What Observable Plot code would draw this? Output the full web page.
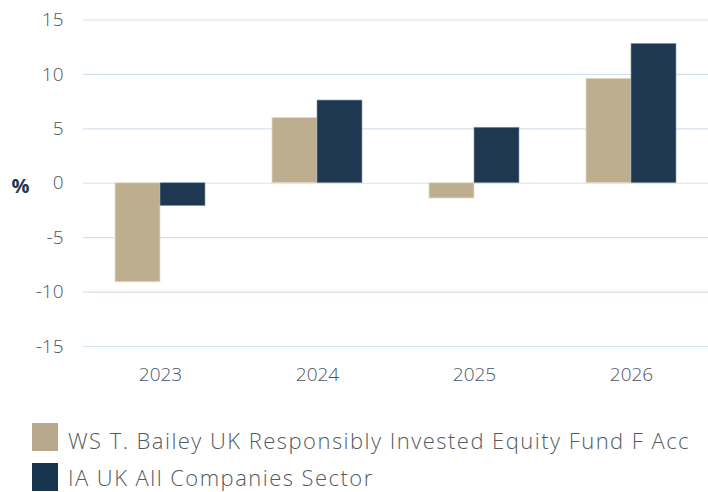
<!DOCTYPE html>
<html>
<head>
<meta charset="utf-8">
<script src="https://cdn.jsdelivr.net/npm/d3@7"></script>
<script src="https://cdn.jsdelivr.net/npm/@observablehq/plot@0.6"></script>
<style>
  body { margin: 0; background: #fff; font-family: "Open Sans", Roboto, sans-serif; }
  #wrap { position: relative; width: 708px; height: 492px; overflow: hidden; }
  .item { position: absolute; left: 32px; display: flex; align-items: center; height: 28px; font-size: 22px; font-weight: 300; color: #555a5f; white-space: nowrap; }
  .item span { position: relative; top: 3px; line-height: 20px; }
  .item.last span { top: 0px; }
  .sw { width: 26px; height: 28px; margin-right: 10px; }
</style>
</head>
<body>
<div id="wrap"></div>
<script>
const years = ["2023", "2024", "2025", "2026"];
const fundValues = [-9.1, 6.0, -1.4, 9.6];
const sectorValues = [-2.1, 7.6, 5.1, 12.8];
const seriesNames = ["WS T. Bailey UK Responsibly Invested Equity Fund F Acc", "IA UK All Companies Sector"];
const seriesColors = ["#bdae90", "#1f3852"];
const legendColors = ["#b9a98c", "#17354f"];
const yTicks = [-15, -10, -5, 0, 5, 10, 15];

const fund = years.map((y, i) => ({year: y, value: fundValues[i]}));
const sector = years.map((y, i) => ({year: y, value: sectorValues[i]}));

const half = 45;
const chart = Plot.plot({
  width: 708,
  height: 400,
  marginLeft: 83,
  marginRight: 0,
  marginTop: 19.5,
  marginBottom: 54,
  style: {fontFamily: "'Open Sans', Roboto, sans-serif", fontSize: "19px", color: "#4a5563", background: "#fff"},
  x: {domain: years, paddingInner: 0.428, paddingOuter: 0.2, label: null, tickSize: 0, tickPadding: 21},
  y: {domain: [-15, 15], ticks: yTicks, label: null, tickSize: 0, tickPadding: 20, tickFormat: d => String(d)},
  marks: [
    Plot.gridY(yTicks, {stroke: "#d3e2f0", strokeOpacity: 1, strokeWidth: 1.2}),
    Plot.barY(fund, {x: "year", y: "value", fill: seriesColors[0], insetRight: half, stroke: "#e6ddcc", strokeWidth: 0.8}),
    Plot.barY(sector, {x: "year", y: "value", fill: seriesColors[1], insetLeft: half, stroke: "#8a9aaa", strokeWidth: 0.6}),
    Plot.text(["%"], {y: () => 0, frameAnchor: "left", dx: -63, dy: 3, fontWeight: "bold", fontSize: 20, fill: "#1f3852", textAnchor: "middle"})
  ]
});
chart.querySelectorAll("g[aria-label$='tick label']").forEach(g => g.setAttribute("font-weight", "300"));
document.getElementById("wrap").appendChild(chart);

const tops = [423, 463];
const targetWidth = 622; // width of the first legend label in the reference
let spacing = 0;
seriesNames.forEach((name, i) => {
  const item = document.createElement("div");
  item.className = i === seriesNames.length - 1 ? "item last" : "item";
  item.style.top = tops[i] + "px";
  const sw = document.createElement("div");
  sw.className = "sw";
  sw.style.background = legendColors[i];
  const label = document.createElement("span");
  label.textContent = name;
  item.appendChild(sw);
  item.appendChild(label);
  document.getElementById("wrap").appendChild(item);
  if (i === 0) {
    const w = label.getBoundingClientRect().width;
    spacing = (targetWidth - w) / name.length;
  }
});
document.querySelectorAll(".item span").forEach(s => s.style.letterSpacing = spacing + "px");
</script>
</body>
</html>
